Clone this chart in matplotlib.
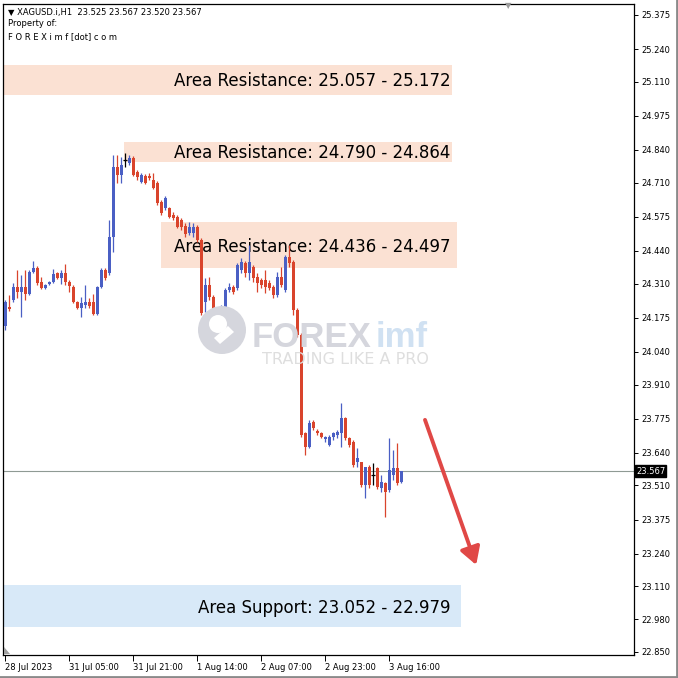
import matplotlib
matplotlib.use("Agg")
import matplotlib.pyplot as plt
from matplotlib.patches import Rectangle, Circle, FancyArrowPatch, Polygon
from matplotlib import font_manager

# ---------------- data ----------------
opens = [24.142, 24.218, 24.245, 24.297, 24.277, 24.297, 24.269, 24.356, 24.372, 24.317,
         24.293, 24.309, 24.317, 24.352, 24.333, 24.352, 24.317, 24.297, 24.237, 24.214,
         24.225, 24.237, 24.237, 24.190, 24.297, 24.364, 24.352, 24.495, 24.772, 24.741,
         24.800, 24.788, 24.808, 24.753, 24.713, 24.737, 24.737, 24.721, 24.709, 24.634,
         24.610, 24.610, 24.582, 24.574, 24.562, 24.539, 24.511, 24.511, 24.535, 24.483,
         24.237, 24.305, 24.257, 24.178, 24.166, 24.214, 24.285, 24.297, 24.293, 24.364,
         24.392, 24.352, 24.376, 24.336, 24.325, 24.325, 24.313, 24.297, 24.265, 24.336,
         24.285, 24.416, 24.396, 24.206, 24.107, 23.718, 23.663, 23.762, 23.726, 23.718,
         23.694, 23.671, 23.702, 23.710, 23.718, 23.778, 23.698, 23.682, 23.603, 23.603,
         23.512, 23.583, 23.552, 23.579, 23.500, 23.520, 23.492, 23.552, 23.579, 23.525]
highs = [24.245, 24.265, 24.313, 24.364, 24.344, 24.364, 24.364, 24.400, 24.380, 24.336,
         24.309, 24.321, 24.368, 24.356, 24.364, 24.388, 24.325, 24.305, 24.241, 24.257,
         24.305, 24.253, 24.269, 24.301, 24.372, 24.372, 24.562, 24.820, 24.820, 24.812,
         24.828, 24.820, 24.816, 24.761, 24.749, 24.745, 24.749, 24.749, 24.717, 24.642,
         24.658, 24.614, 24.594, 24.582, 24.570, 24.551, 24.555, 24.551, 24.543, 24.491,
         24.333, 24.336, 24.265, 24.186, 24.225, 24.293, 24.313, 24.305, 24.392, 24.412,
         24.400, 24.463, 24.384, 24.352, 24.333, 24.364, 24.325, 24.305, 24.356, 24.376,
         24.424, 24.463, 24.404, 24.214, 24.115, 23.722, 23.770, 23.770, 23.734, 23.722,
         23.706, 23.710, 23.722, 23.730, 23.837, 23.782, 23.702, 23.690, 23.659, 23.603,
         23.583, 23.591, 23.599, 23.583, 23.552, 23.525, 23.698, 23.651, 23.678, 23.567]
lows = [24.126, 24.202, 24.237, 24.253, 24.178, 24.245, 24.265, 24.352, 24.305, 24.289,
        24.289, 24.305, 24.313, 24.329, 24.309, 24.305, 24.277, 24.233, 24.210, 24.178,
        24.214, 24.214, 24.186, 24.186, 24.293, 24.325, 24.344, 24.436, 24.709, 24.709,
        24.772, 24.780, 24.737, 24.721, 24.709, 24.705, 24.721, 24.685, 24.622, 24.582,
        24.602, 24.570, 24.562, 24.531, 24.523, 24.495, 24.503, 24.495, 24.475, 24.186,
        24.198, 24.245, 24.118, 24.154, 24.158, 24.206, 24.277, 24.269, 24.285, 24.352,
        24.336, 24.325, 24.317, 24.277, 24.293, 24.273, 24.285, 24.253, 24.257, 24.297,
        24.277, 24.376, 24.186, 24.099, 23.702, 23.631, 23.659, 23.730, 23.710, 23.698,
        23.682, 23.667, 23.690, 23.698, 23.663, 23.690, 23.663, 23.583, 23.583, 23.504,
        23.460, 23.500, 23.512, 23.496, 23.484, 23.385, 23.484, 23.532, 23.512, 23.520]
closes = [24.237, 24.210, 24.297, 24.277, 24.297, 24.269, 24.356, 24.372, 24.313, 24.293,
          24.305, 24.317, 24.348, 24.333, 24.352, 24.317, 24.301, 24.237, 24.214, 24.233,
          24.237, 24.221, 24.190, 24.297, 24.364, 24.333, 24.495, 24.772, 24.741, 24.780,
          24.800, 24.808, 24.741, 24.733, 24.741, 24.709, 24.729, 24.689, 24.630, 24.590,
          24.650, 24.574, 24.570, 24.535, 24.535, 24.507, 24.535, 24.535, 24.483, 24.194,
          24.305, 24.257, 24.166, 24.166, 24.214, 24.285, 24.297, 24.277, 24.384, 24.396,
          24.352, 24.396, 24.333, 24.313, 24.305, 24.297, 24.293, 24.265, 24.336, 24.305,
          24.416, 24.392, 24.206, 24.107, 23.710, 23.663, 23.758, 23.738, 23.718, 23.702,
          23.702, 23.702, 23.718, 23.722, 23.778, 23.698, 23.671, 23.591, 23.619, 23.512,
          23.583, 23.512, 23.552, 23.504, 23.525, 23.484, 23.571, 23.579, 23.520, 23.567]

price_ticks = [25.375, 25.240, 25.110, 24.975, 24.840, 24.710, 24.575, 24.440, 24.310,
               24.175, 24.040, 23.910, 23.775, 23.640, 23.510, 23.375, 23.240, 23.110,
               22.980, 22.850]
time_tick_bars = [0, 16, 32, 48, 64, 80, 96]
time_tick_labels = ["28 Jul 2023", "31 Jul 05:00", "31 Jul 21:00", "1 Aug 14:00",
                    "2 Aug 07:00", "2 Aug 23:00", "3 Aug 16:00"]

zone_labels = ["Area Resistance: 25.057 - 25.172", "Area Resistance: 24.790 - 24.864",
               "Area Resistance: 24.436 - 24.497", "Area Support: 23.052 - 22.979"]
zone_low = [25.058, 24.792, 24.372, 22.949]
zone_high = [25.177, 24.872, 24.554, 23.115]
zone_kind = ["res", "res", "res", "sup"]

current_price = 23.567
header = "XAGUSD.i,H1  23.525 23.567 23.520 23.567"

# ---------------- layout / style ----------------
W = H = 678
DPI = 100
BLUE = "#4a5fc4"
RED = "#d9442c"
RES_COL = "#fbe1d3"
SUP_COL = "#d8e9f8"

zone_x0 = [-0.5, 29.75, 39.0, -0.5]
zone_x1 = [111.75, 111.75, 113.0, 114.0]
text_right = 111.3
arrow_tail = (105.0, 23.770)
arrow_head = (117.8, 23.195)

fig = plt.figure(figsize=(W / DPI, H / DPI), dpi=DPI)
fig.patch.set_facecolor("white")

def fx(px):
    return px / W

def fy(py):
    return 1 - py / H

ax_l, ax_r, ax_t, ax_b = 3, 634, 4, 655
ax = fig.add_axes([fx(ax_l), fy(ax_b), (ax_r - ax_l) / W, (ax_b - ax_t) / H])
ax.set_facecolor("white")

px_per_bar = 4.0
x_min = -0.5
x_max = x_min + (ax_r - ax_l) / px_per_bar
y_top = 25.4186
y_bot = 22.838
ax.set_xlim(x_min, x_max)
ax.set_ylim(y_bot, y_top)

# zones
for lab, lo, hi, kind, x0, x1 in zip(zone_labels, zone_low, zone_high, zone_kind, zone_x0, zone_x1):
    col = RES_COL if kind == "res" else SUP_COL
    ax.add_patch(Rectangle((x0, lo), x1 - x0, hi - lo, facecolor=col, edgecolor="none", zorder=1))

# watermark
WM_GRAY = "#d5d6dd"
fig.patches.append(Circle((fx(222), fy(330)), 24 / W, transform=fig.transFigure,
                          facecolor=WM_GRAY, edgecolor="none", zorder=1.5))
fig.patches.append(Circle((fx(218), fy(324)), 9 / W, transform=fig.transFigure,
                          facecolor="white", edgecolor="none", zorder=1.6))
fig.patches.append(Polygon([(fx(214), fy(338)), (fx(228), fy(326)), (fx(234), fy(332)),
                            (fx(220), fy(344))], closed=True, transform=fig.transFigure,
                           facecolor="white", edgecolor="none", zorder=1.6))
avail = {f.name for f in font_manager.fontManager.ttflist}
narrow = "Liberation Sans Narrow" in avail
wm_family = "Liberation Sans Narrow" if narrow else "Liberation Sans"
wm_size = 31 if narrow else 25
fig.text(fx(252), fy(347), "FOREX", fontsize=wm_size, fontweight="bold", color=WM_GRAY,
         family=wm_family, va="baseline", ha="left", zorder=1.5)
fig.text(fx(376), fy(347), "imf", fontsize=wm_size, fontweight="bold", color="#d0e1f2",
         family=wm_family, va="baseline", ha="left", zorder=1.5)
fig.text(fx(262), fy(364), "TRADING LIKE A PRO", fontsize=11.5, color="#dedede",
         family="DejaVu Sans", va="baseline", ha="left", zorder=1.5)

# zone texts
for lab, lo, hi in zip(zone_labels, zone_low, zone_high):
    ax.text(text_right, (lo + hi) / 2 - 0.006, lab, ha="right", va="center", fontsize=12,
            family="DejaVu Sans", color="black", zorder=3)

# current price line
ax.axhline(current_price, color="#8f9a94", lw=0.8, zorder=2)

# candles
for i, (o, h, l, c) in enumerate(zip(opens, highs, lows, closes)):
    if c > o:
        col = BLUE
    elif c < o:
        col = RED
    else:
        col = "black"
    ax.vlines(i, l, h, color=col, lw=0.9, zorder=4)
    if c == o:
        ax.hlines(o, i - 0.4, i + 0.4, color=col, lw=0.9, zorder=4)
    else:
        ax.bar(i, abs(c - o), bottom=min(o, c), width=0.75, color=col, edgecolor="none",
               zorder=4)

# arrow
ax.add_patch(FancyArrowPatch(arrow_tail, arrow_head, arrowstyle="-|>,head_length=6.5,head_width=3.8",
                             color="#e04846", lw=2.8, zorder=5, shrinkA=0, shrinkB=0,
                             mutation_scale=1.6))

# axes styling
for s in ax.spines.values():
    s.set_color("black")
    s.set_linewidth(0.9)
ax.yaxis.tick_right()
ax.set_yticks(price_ticks)
ax.set_yticklabels([f"{v:.3f}" for v in price_ticks])
ax.tick_params(axis="y", direction="out", length=3, width=0.7, pad=2, labelsize=6,
               colors="black")
ax.set_xticks(time_tick_bars)
ax.set_xticklabels(time_tick_labels)
for t in ax.get_xticklabels():
    t.set_ha("left")
ax.tick_params(axis="x", direction="out", length=4, width=0.7, pad=2, labelsize=6,
               colors="black")

# current price label on the axis
ax.text(1.003, current_price, f"{current_price:.3f}", transform=ax.get_yaxis_transform(),
        ha="left", va="center", fontsize=6, color="white", zorder=10, clip_on=False,
        bbox=dict(boxstyle="square,pad=0.15", facecolor="black", edgecolor="black"))

# header texts
fig.text(fx(8), fy(12), "\u25bc " + header, fontsize=6, family="DejaVu Sans", va="center",
         ha="left")
fig.text(fx(8), fy(24), "Property of:", fontsize=6, family="DejaVu Sans", va="center", ha="left")
fig.text(fx(8), fy(37), "F O R E X i m f [dot] c o m", fontsize=6, family="DejaVu Sans",
         va="center", ha="left")

# shift marker at top, small marker bottom-left
fig.text(fx(508), fy(6), "\u25bc", fontsize=6, color="#9a9a9a", ha="center", va="center")
fig.patches.append(Polygon([(fx(4), fy(654)), (fx(4), fy(647)), (fx(10), fy(654))],
                           closed=True, transform=fig.transFigure, facecolor="#a0a0a0",
                           edgecolor="none", zorder=6))

# outer frame (right and bottom)
fig.lines.append(plt.Line2D([fx(676.5), fx(676.5)], [0, 1], transform=fig.transFigure,
                            color="#8a8a8a", lw=2))
fig.lines.append(plt.Line2D([0, 1], [fy(676.5), fy(676.5)], transform=fig.transFigure,
                            color="#8a8a8a", lw=2))

fig.savefig("out.png", dpi=DPI)
